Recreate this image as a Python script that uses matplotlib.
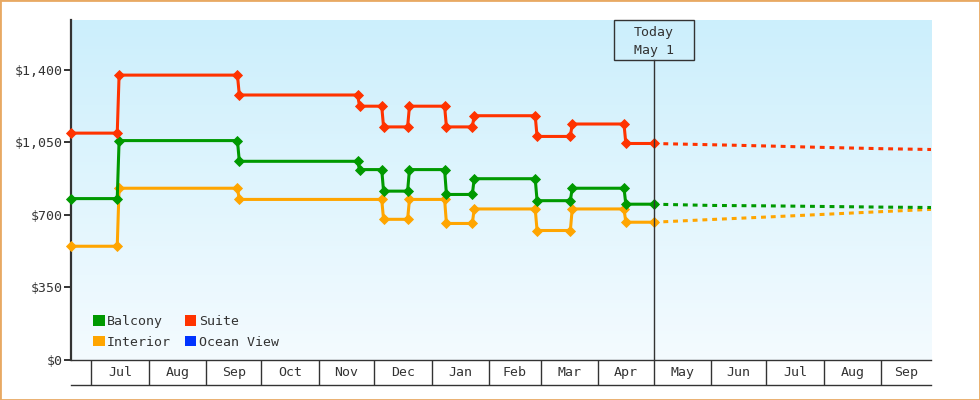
import matplotlib
matplotlib.use("Agg")
import matplotlib.pyplot as plt
import matplotlib.dates as mdates
from matplotlib.patches import Rectangle, Patch
from matplotlib.ticker import FuncFormatter
import numpy as np
import pandas as pd

plt.rcParams['font.family'] = ['DejaVu Sans Mono', 'DejaVu Sans']
plt.rcParams['font.size'] = 9.5

# ---------------- data ----------------
series_names = ["Balcony", "Interior", "Suite", "Ocean View"]
series_colors = ["#009900", "#FFA500", "#FF3300", "#0033FF"]

balcony_dates = ["2022-06-20", "2022-07-15", "2022-07-16", "2022-09-18", "2022-09-19",
                 "2022-11-22", "2022-11-23", "2022-12-05", "2022-12-06", "2022-12-19",
                 "2022-12-20", "2023-01-08", "2023-01-09", "2023-01-23", "2023-01-24",
                 "2023-02-26", "2023-02-27", "2023-03-17", "2023-03-18", "2023-04-15",
                 "2023-04-16", "2023-05-01"]
balcony_prices = [779, 779, 1059, 1059, 959, 959, 919, 919, 815, 815, 919, 919, 799, 799,
                  875, 875, 769, 769, 829, 829, 752, 752]

interior_dates = ["2022-06-20", "2022-07-15", "2022-07-16", "2022-09-18", "2022-09-19",
                  "2022-12-05", "2022-12-06", "2022-12-19", "2022-12-20", "2023-01-08",
                  "2023-01-09", "2023-01-23", "2023-01-24", "2023-02-26", "2023-02-27",
                  "2023-03-17", "2023-03-18", "2023-04-15", "2023-04-16", "2023-05-01"]
interior_prices = [549, 549, 829, 829, 775, 775, 679, 679, 775, 775, 659, 659, 729, 729,
                   625, 625, 729, 729, 665, 665]

suite_dates = balcony_dates
suite_prices = [1095, 1095, 1375, 1375, 1279, 1279, 1225, 1225, 1125, 1125, 1225, 1225,
                1125, 1125, 1179, 1179, 1079, 1079, 1139, 1139, 1045, 1045]

ocean_dates = []
ocean_prices = []

forecast_dates = ["2023-05-01", "2023-06-01", "2023-07-01", "2023-08-01", "2023-09-01", "2023-09-28"]
balcony_forecast = [752, 746, 744, 741, 738, 736]
interior_forecast = [665, 678, 690, 703, 716, 727]
suite_forecast = [1045, 1039, 1033, 1026, 1020, 1016]
ocean_forecast = []

today = "2023-05-01"
today_labels = ["Today", "May 1"]
x_start, x_end = "2022-06-20", "2023-09-28"
y_ticks = [0, 350, 700, 1050, 1400]
y_max = 1641

# ---------------- figure ----------------
W, H = 980, 400
fig = plt.figure(figsize=(W / 100, H / 100), dpi=100)
fig.patch.set_facecolor("white")

L, R, T, B = 71, 931, 20, 360
ax = fig.add_axes([L / W, 1 - B / H, (R - L) / W, (B - T) / H])
strip = fig.add_axes([L / W, 1 - 385 / H, (R - L) / W, 25 / H])

x0, x1 = mdates.datestr2num(x_start), mdates.datestr2num(x_end)
ax.set_xlim(x0, x1)
ax.set_ylim(0, y_max)
strip.set_xlim(x0, x1)
strip.set_ylim(0, 1)

# gradient background
grad = np.linspace(0, 1, 256).reshape(-1, 1)
top_c = np.array([0xCC, 0xEF, 0xFC]) / 255
bot_c = np.array([0xF4, 0xFB, 0xFF]) / 255
img = top_c[None, None, :] * (1 - grad[:, :, None]) + bot_c[None, None, :] * grad[:, :, None]
ax.imshow(img, extent=(0, 1, 0, 1), transform=ax.transAxes, aspect="auto", zorder=0)

ink = "#333333"
hist = [(balcony_dates, balcony_prices, balcony_forecast),
        (interior_dates, interior_prices, interior_forecast),
        (suite_dates, suite_prices, suite_forecast),
        (ocean_dates, ocean_prices, ocean_forecast)]
order = [1, 0, 2, 3]
for i in order:
    d, p, f = hist[i]
    c = series_colors[i]
    if d:
        ax.plot(mdates.datestr2num(d), p, color=c, lw=2.2, marker="D", ms=5,
                mec=c, mew=0.6, zorder=3, clip_on=False, solid_joinstyle="miter")
    if f:
        ax.plot(mdates.datestr2num(forecast_dates), f, color=c, lw=2.2,
                dashes=(1.6, 1.6), dash_capstyle="butt", zorder=2)

# today marker
tx = mdates.datestr2num(today)
tf = (tx - x0) / (x1 - x0)
box_h = 40 / (B - T)
box_w = 80 / (R - L)
ax.axvline(tx, ymin=0, ymax=1 - box_h, color=ink, lw=1, zorder=4)
ax.add_patch(Rectangle((tf - box_w / 2, 1 - box_h), box_w, box_h, transform=ax.transAxes,
                       fill=False, ec=ink, lw=1, clip_on=False, zorder=5))
ax.text(tf, 1 - 12.3 / (B - T), today_labels[0], transform=ax.transAxes,
        ha="center", va="center", color=ink, zorder=6)
ax.text(tf, 1 - 30.7 / (B - T), today_labels[1], transform=ax.transAxes,
        ha="center", va="center", color=ink, zorder=6)

# axes styling
for s in ["top", "right"]:
    ax.spines[s].set_visible(False)
ax.spines["left"].set_linewidth(1.6)
ax.spines["left"].set_color(ink)
ax.spines["bottom"].set_linewidth(1)
ax.spines["bottom"].set_color(ink)
ax.set_yticks(y_ticks)
ax.yaxis.set_major_formatter(FuncFormatter(lambda v, _: f"${v:,.0f}"))
ax.tick_params(axis="y", length=5, width=1.4, color=ink, labelcolor=ink, pad=1)
ax.set_xticks([])

# month strip
for s in ["top", "right", "left"]:
    strip.spines[s].set_visible(False)
strip.spines["bottom"].set_color(ink)
strip.spines["bottom"].set_linewidth(1)
strip.set_xticks([])
strip.set_yticks([])
strip.patch.set_alpha(0)
months = pd.date_range("2022-06-01", "2023-09-01", freq="MS")
for m in months:
    ms_ = mdates.date2num(m)
    me_ = mdates.date2num(m + pd.offsets.MonthBegin(1))
    if x0 < ms_ < x1:
        strip.axvline(ms_, color=ink, lw=1)
    a, b = max(ms_, x0), min(me_, x1)
    if b - a >= 20:
        strip.text((a + b) / 2, 0.5, m.strftime("%b"), ha="center", va="center", color=ink)

# legend
handles = [Patch(facecolor=c, edgecolor="none") for c in series_colors]
leg = ax.legend(handles, series_names, ncol=2, loc="lower left",
                bbox_to_anchor=((93.3 - L) / (R - L), 11.5 / (B - T)),
                frameon=False, borderpad=0, borderaxespad=0,
                handlelength=0.85, handleheight=0.85, handletextpad=0.2,
                columnspacing=1.07, labelspacing=0.57)
for t in leg.get_texts():
    t.set_color(ink)

# figure border
fig.patches.append(Rectangle((0, 0), 1, 1, transform=fig.transFigure, fill=False,
                             ec="#E8A963", lw=2, zorder=10))

fig.savefig("out.png", dpi=100)
